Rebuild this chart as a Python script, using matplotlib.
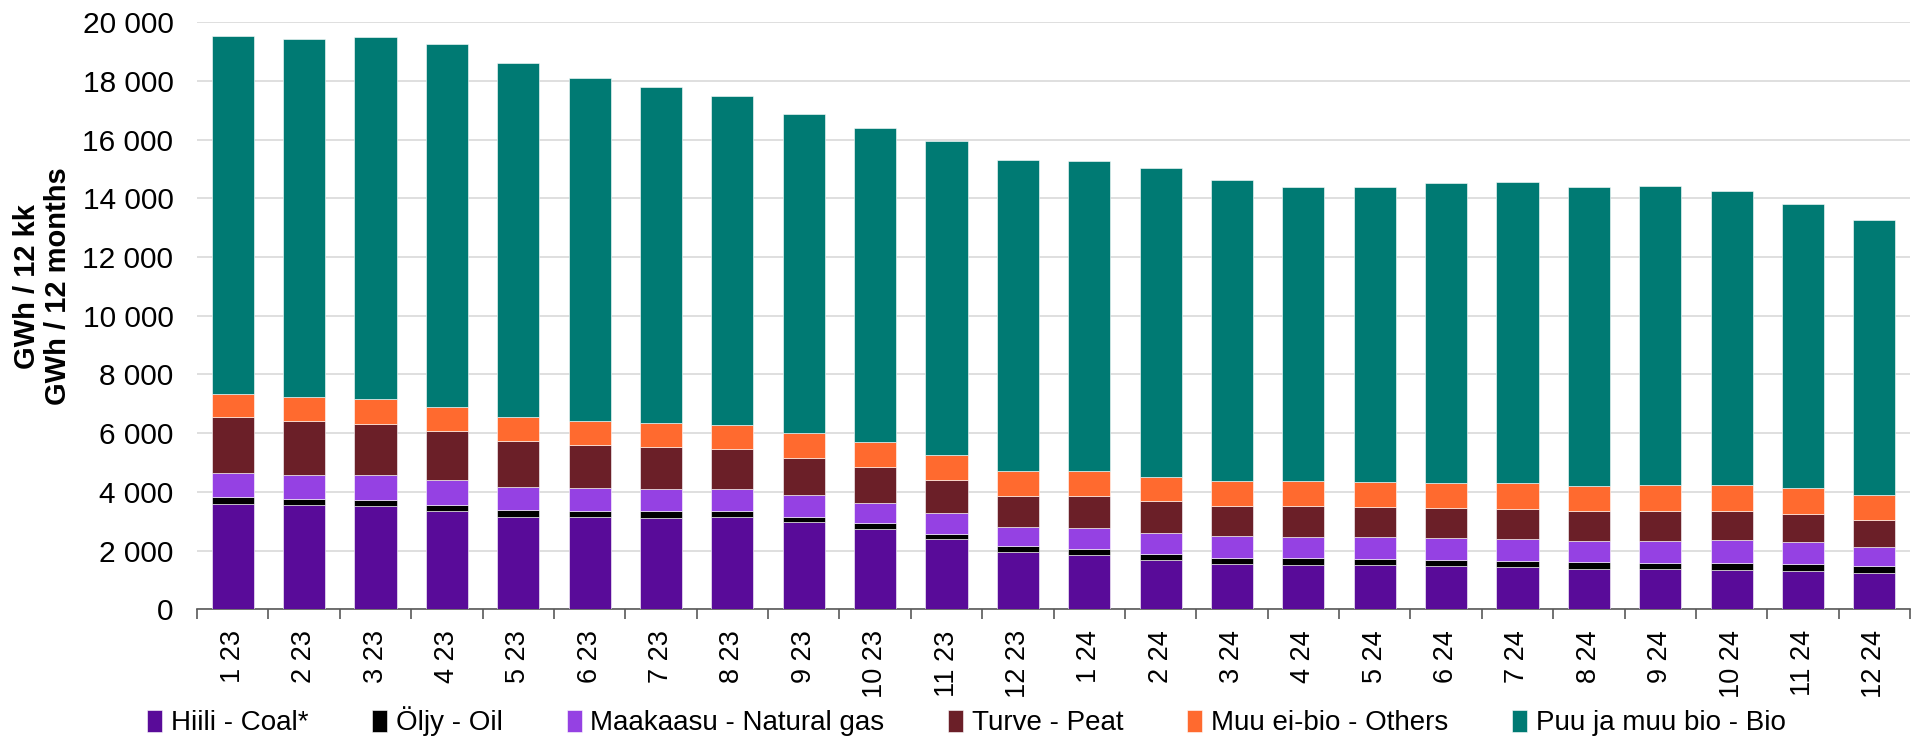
import numpy as np
import matplotlib.pyplot as plt
from matplotlib.ticker import FuncFormatter, MultipleLocator

# month labels (month year)
months = ["1 23", "2 23", "3 23", "4 23", "5 23", "6 23", "7 23", "8 23", "9 23", "10 23", "11 23", "12 23",
          "1 24", "2 24", "3 24", "4 24", "5 24", "6 24", "7 24", "8 24", "9 24", "10 24", "11 24", "12 24"]

# GWh / 12 months
coal = [3600, 3560, 3535, 3355, 3160, 3140, 3125, 3140, 2960, 2750, 2385, 1965,
        1840, 1670, 1535, 1525, 1500, 1465, 1430, 1375, 1365, 1340, 1305, 1240]
oil = [215, 215, 205, 215, 215, 205, 215, 205, 200, 180, 180, 195,
       215, 215, 225, 225, 225, 215, 225, 240, 225, 240, 250, 240]
gas = [815, 815, 830, 830, 805, 780, 750, 750, 725, 705, 705, 635,
       725, 705, 730, 725, 730, 750, 740, 715, 740, 770, 740, 660]
peat = [1915, 1835, 1755, 1675, 1555, 1485, 1440, 1350, 1280, 1230, 1145, 1055,
        1090, 1090, 1045, 1045, 1035, 1035, 1035, 1010, 1035, 1010, 965, 910]
others = [805, 805, 825, 815, 815, 815, 815, 825, 830, 830, 840, 855,
          840, 830, 840, 855, 850, 850, 865, 865, 875, 875, 865, 840]
bio = [12175, 12205, 12345, 12365, 12050, 11680, 11450, 11235, 10870, 10700, 10690, 10610,
       10555, 10510, 10250, 10000, 10045, 10195, 10275, 10170, 10180, 10015, 9670, 9375]

series = [
    ("Hiili - Coal*", coal, "#590b99"),
    ("Öljy - Oil", oil, "#000000"),
    ("Maakaasu - Natural gas", gas, "#9541e3"),
    ("Turve - Peat", peat, "#6b1f28"),
    ("Muu ei-bio - Others", others, "#ff6a2f"),
    ("Puu ja muu bio - Bio", bio, "#007a73"),
]

plt.rcParams['font.family'] = ['Liberation Sans', 'DejaVu Sans']
narrow = ['Liberation Sans Narrow', 'Liberation Sans', 'DejaVu Sans']

fig = plt.figure(figsize=(19.21, 7.40), dpi=100)
ax = fig.add_axes([0.1026, 0.1766, 0.8917, 0.7933])

x = np.arange(len(months))
bottom = np.zeros(len(months))
for name, vals, col in series:
    ax.bar(x, vals, width=0.59, bottom=bottom, color=col, label=name,
           edgecolor="#ffffff", linewidth=0.4, zorder=3)
    bottom += np.array(vals)

ax.set_xlim(-0.5, len(months) - 0.5)
ax.set_ylim(0, 20000)
ax.yaxis.set_major_locator(MultipleLocator(2000))
ax.yaxis.set_major_formatter(FuncFormatter(lambda v, p: f"{int(v):,}".replace(",", " ")))
ax.grid(axis="y", color="#d9d9d9", linewidth=1.2, zorder=0)
ax.tick_params(axis="y", length=0, pad=17, labelsize=21.5, labelcolor="#000000")

ax.set_xticks(x)
ax.set_xticklabels(months, rotation=90, fontsize=19.5)
ax.set_xticks(np.arange(len(months) + 1) - 0.5, minor=True)
ax.tick_params(axis="x", which="major", length=0, pad=15)
ax.tick_params(axis="x", which="minor", length=7, width=1.2, color="#595959")

for s in ["left", "right", "top"]:
    ax.spines[s].set_visible(False)
ax.spines["bottom"].set_color("#595959")
ax.spines["bottom"].set_linewidth(1.2)

ax.set_ylabel("GWh / 12 kk\nGWh / 12 months", fontsize=21, fontweight="bold", linespacing=1.15)
ax.yaxis.set_label_coords(-0.073, 0.55)

fig.legend(loc="center", bbox_to_anchor=(0.503, 0.025), ncol=6, frameon=False,
           prop={"family": narrow, "size": 20}, handlelength=0.55, handleheight=0.85,
           handletextpad=0.3, columnspacing=2.3)

fig.savefig("out.png", dpi=100)
